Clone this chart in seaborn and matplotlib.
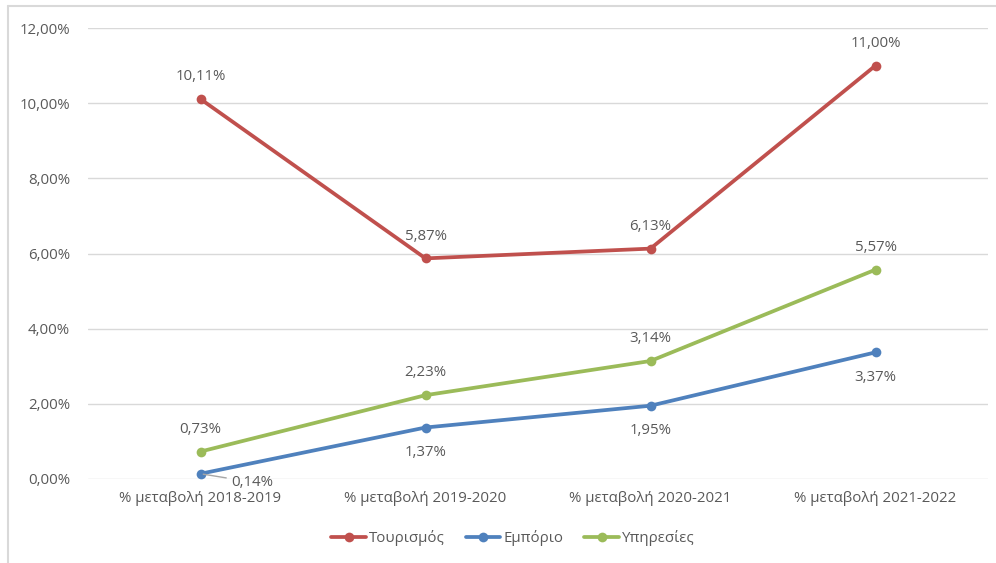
import pandas as pd
import matplotlib
import matplotlib.pyplot as plt
import seaborn as sns
from matplotlib.lines import Line2D

matplotlib.use('Agg')

# data
periods = ["% μεταβολή 2018-2019", "% μεταβολή 2019-2020",
           "% μεταβολή 2020-2021", "% μεταβολή 2021-2022"]
tourism = [10.11, 5.87, 6.13, 11.00]
commerce = [0.14, 1.37, 1.95, 3.37]
services = [0.73, 2.23, 3.14, 5.57]
series_names = ["Τουρισμός", "Εμπόριο", "Υπηρεσίες"]
colors = ["#C0504D", "#4F81BD", "#9BBB59"]

rows = []
for name, vals in zip(series_names, [tourism, commerce, services]):
    for i, v in enumerate(vals):
        rows.append({"x": i, "value": v, "series": name})
df = pd.DataFrame(rows)

sns.set_style("white")
plt.rcParams['font.family'] = ['Open Sans', 'DejaVu Sans']
text_color = "#595959"
fs = 10.8

fig = plt.figure(figsize=(9.96, 5.63), dpi=100)
ax = fig.add_axes([88 / 996, 1 - 479 / 563, 900 / 996, 451 / 563])

sns.lineplot(data=df, x="x", y="value", hue="series", palette=colors,
             marker="o", markersize=7, markeredgewidth=0, linewidth=2.7,
             ax=ax, legend=False, zorder=3)

ax.set_xlim(-0.5, 3.5)
ax.set_ylim(0, 12)
ax.set_yticks(range(0, 13, 2))
ax.set_yticklabels([f"{v:.2f}%".replace(".", ",") for v in range(0, 13, 2)])
ax.set_xticks(range(4))
ax.set_xticklabels(periods)
ax.tick_params(axis="both", length=0, labelsize=fs, labelcolor=text_color)
ax.tick_params(axis="y", pad=13)
ax.tick_params(axis="x", pad=9)
ax.set_xlabel("")
ax.set_ylabel("")
ax.grid(axis="y", color="#D9D9D9", linewidth=1)
for s in ax.spines.values():
    s.set_visible(False)


def fmt(v):
    return f"{v:.2f}%".replace(".", ",")


# data labels
for i, v in enumerate(tourism):
    ax.annotate(fmt(v), (i, v), xytext=(0, 16), textcoords="offset points",
                ha="center", va="center", fontsize=fs, color=text_color)
for i, v in enumerate(services):
    ax.annotate(fmt(v), (i, v), xytext=(0, 16), textcoords="offset points",
                ha="center", va="center", fontsize=fs, color=text_color)
for i, v in enumerate(commerce):
    if i == 0:
        ax.annotate(fmt(v), (i, v), xytext=(37, -6), textcoords="offset points",
                    ha="center", va="center", fontsize=fs, color=text_color,
                    arrowprops=dict(arrowstyle="-", color="#A6A6A6", lw=1,
                                    shrinkA=1, shrinkB=2))
    else:
        ax.annotate(fmt(v), (i, v), xytext=(0, -18), textcoords="offset points",
                    ha="center", va="center", fontsize=fs, color=text_color)

# legend
handles = [Line2D([0], [0], color=c, lw=2.7, marker="o", markersize=7,
                  markeredgewidth=0) for c in colors]
fig.legend(handles, series_names, loc="center", bbox_to_anchor=(513 / 996, 1 - 538 / 563),
           ncol=3, frameon=False, fontsize=fs, labelcolor=text_color,
           handlelength=2.3, handletextpad=0.2, columnspacing=1.4)

# chart frame (left and top edges)
fig.add_artist(Line2D([8 / 996, 8 / 996], [0, 1 - 6 / 563], color="#D9D9D9", lw=1.5,
                      transform=fig.transFigure))
fig.add_artist(Line2D([8 / 996, 1], [1 - 6 / 563, 1 - 6 / 563], color="#D9D9D9", lw=1.5,
                      transform=fig.transFigure))

plt.savefig("out.png", dpi=100)
plt.close()
